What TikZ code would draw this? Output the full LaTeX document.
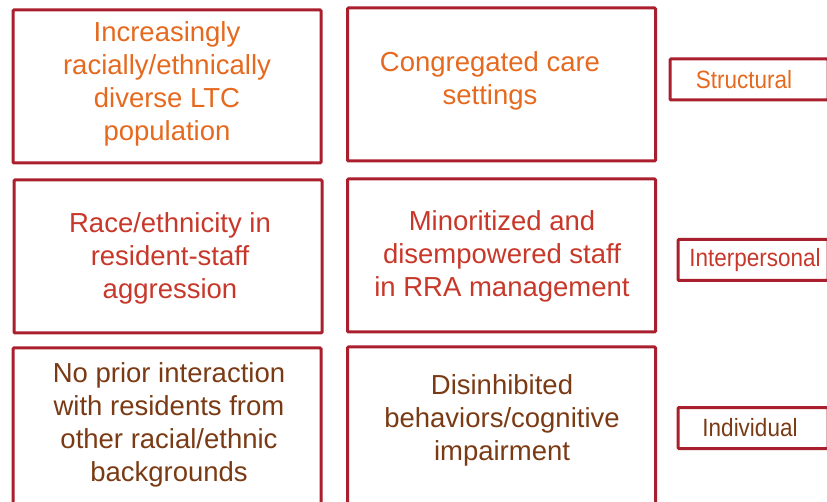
\documentclass[tikz,border=0pt]{standalone}
\usepackage{fontspec}
\setmainfont{Liberation Sans}
\newfontfamily\tagfont{Liberation Sans}[FakeStretch=0.9]
\usepackage{tikz}
\usetikzlibrary{positioning}
\definecolor{frame}{HTML}{AA1F2E}
\definecolor{lvlstruct}{HTML}{E5691E}
\definecolor{lvlinter}{HTML}{C8382A}
\definecolor{lvlindiv}{HTML}{7A3A14}
\tikzset{
  cell/.style={draw=frame, line width=3pt, rounded corners=1pt, rectangle, minimum width=308pt, inner sep=0pt},
  txt/.style={align=center, font=\fontsize{27.5}{33}\selectfont, inner sep=0pt},
  tag/.style={draw=frame, line width=3pt, rounded corners=1pt, rectangle, minimum height=41pt, anchor=west, font=\tagfont\fontsize{25}{29}\selectfont, inner sep=0pt},
}
\begin{document}
\begin{tikzpicture}[x=1pt,y=-1pt]
\useasboundingbox (0,0) rectangle (827,502);
% top row: structural
\node[cell, minimum height=153pt] (c11) at (167,86.5) {};
\node[txt, text=lvlstruct] (t11) at (167,83.5) {Increasingly\\racially/ethnically\\diverse LTC\\population};
\node[cell, minimum height=153pt] (c12) at (501.5,84.5) {};
\node[txt, text=lvlstruct] (t12) at (490,81) {Congregated care\\settings};
% middle row: interpersonal
\node[cell, minimum height=153pt] (c21) at (168,256.5) {};
\node[txt, text=lvlinter] (t21) at (170,258) {Race/ethnicity in\\resident-staff\\aggression};
\node[cell, minimum height=153pt] (c22) at (501.5,255.5) {};
\node[txt, text=lvlinter] (t22) at (502,256) {Minoritized and\\disempowered staff\\in RRA management};
% bottom row: individual, runs off the page
\node[cell, minimum height=180pt] (c31) at (167,438) {};
\node[txt, text=lvlindiv] (t31) at (169,425) {No prior interaction\\with residents from\\other racial/ethnic\\backgrounds};
\node[cell, minimum height=180pt] (c32) at (501.5,437) {};
\node[txt, text=lvlindiv] (t32) at (502,420) {Disinhibited\\behaviors/cognitive\\impairment};
% level tags on the right
\node[tag, text=lvlstruct, minimum width=158pt] (s) at (668.5,79.5) {\hspace*{-10pt}\raisebox{-2.5pt}{Structural}};
\node[tag, text=lvlinter, minimum width=150pt] (i) at (676.5,260) {\hspace*{4pt}\raisebox{-1.5pt}{Interpersonal}};
\node[tag, text=lvlindiv, minimum width=150pt] (d) at (676.5,428) {\hspace*{-6pt}\raisebox{-1.5pt}{Individual}};
\end{tikzpicture}
\end{document}
